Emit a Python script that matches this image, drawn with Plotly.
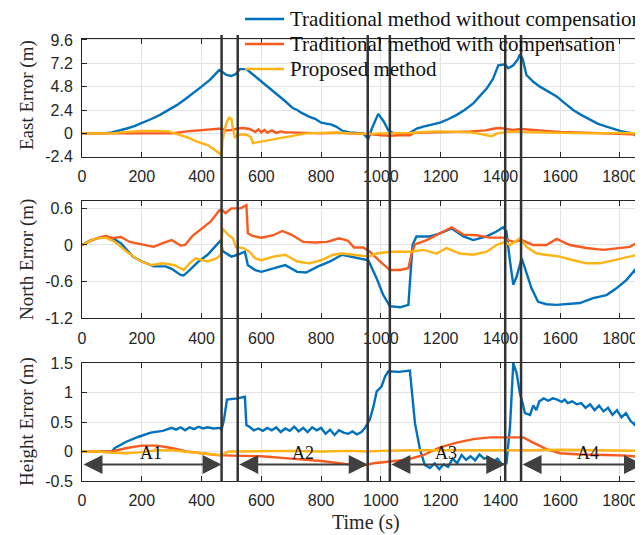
import plotly.graph_objects as go
from plotly.subplots import make_subplots

# ---------------- data ----------------
series_names = ["Traditional method without compensation",
                "Traditional method with compensation",
                "Proposed method"]
series_colors = ["#0072BD", "#F95A1E", "#FDB414"]

# East error
t_e_wo = [0, 50, 80, 100, 130, 150, 175, 200, 230, 261, 290, 317, 345, 372, 400, 428, 445, 459,
          470, 483, 500, 515, 528, 550, 570, 594, 620, 650, 680, 705, 720, 735, 761, 780, 800, 817,
          835, 850, 872, 895, 920, 940, 950, 958, 970, 991, 1010, 1025, 1040, 1070, 1097, 1120, 1142,
          1170, 1198, 1225, 1254, 1280, 1310, 1330, 1354, 1375, 1393, 1415, 1426, 1443, 1458, 1465,
          1474, 1487, 1510, 1532, 1560, 1588, 1615, 1643, 1670, 1699, 1725, 1755, 1780, 1800, 1825,
          1844, 1861, 1872, 1877]
e_wo = [0, 0, 0.02, 0.1, 0.3, 0.5, 0.75, 1.05, 1.45, 1.9, 2.4, 2.9, 3.5, 4.1, 4.8, 5.5, 6.0, 6.5,
        6.3, 6.0, 5.9, 6.1, 6.6, 6.6, 6.1, 5.5, 4.8, 4.1, 3.3, 2.6, 2.4, 2.1, 1.7, 1.5, 1.1, 1.0,
        0.9, 0.7, 0.25, 0.1, 0.05, 0, -0.3, -0.55, 0.5, 2.0, 1.2, 0.3, 0.05, 0, 0.05, 0.5, 0.7,
        0.9, 1.1, 1.45, 1.9, 2.4, 3.1, 3.8, 4.6, 5.6, 7.0, 7.1, 6.7, 7.0, 7.6, 8.1,
        7.7, 6.0, 5.3, 4.8, 4.3, 3.8, 3.1, 2.4, 1.9, 1.4, 1.0, 0.7, 0.45, 0.25, 0.1,
        0, -0.5, -0.8, -0.85]

t_e_wc = [0, 100, 200, 300, 350, 400, 440, 467, 480, 500, 521, 540, 560, 580, 590, 600, 610, 620,
          635, 650, 665, 680, 700, 750, 800, 850, 900, 956, 970, 1000, 1030, 1060, 1097, 1110, 1150,
          1200, 1250, 1300, 1350, 1380, 1400, 1420, 1440, 1470, 1500, 1550, 1600, 1650, 1700, 1750,
          1800, 1840, 1877]
e_wc = [0, 0, -0.05, 0, 0.2, 0.35, 0.45, 0.5, 0.3, 0.35, 0.5, 0.55, 0.45, 0.15, 0.4, 0.1, 0.35, 0.05,
        0.3, 0.05, 0.2, 0.1, 0.1, 0.05, 0, 0.05, 0, -0.05, -0.1, -0.2, -0.25, -0.2, -0.2, 0.05, 0.1,
        0.15, 0.15, 0.2, 0.3, 0.5, 0.55, 0.45, 0.35, 0.45, 0.4, 0.25, 0.15, 0.1, 0.05, 0,
        -0.1, -0.1, -0.05]

t_e_pr = [0, 100, 150, 200, 250, 290, 300, 320, 340, 360, 380, 400, 420, 440, 455, 462, 467, 470,
          478, 485, 492, 500, 505, 512, 520, 540, 555, 565, 572, 590, 610, 650, 700, 750, 800, 850,
          900, 956, 1000, 1030, 1100, 1150, 1200, 1250, 1300, 1330, 1350, 1370, 1390, 1420, 1450,
          1500, 1550, 1600, 1700, 1800, 1877]
e_pr = [0, 0, 0.15, 0.25, 0.25, 0.2, 0.1, -0.1, -0.3, -0.5, -0.8, -1.0, -1.2, -1.6, -1.9, -2.1, -2.3, -0.8,
        0.5, 1.2, 1.6, 1.5, 0.4, -0.4, -0.2, -0.1, -0.2, -0.4, -1.0, -0.9, -0.8, -0.6, -0.25, 0, 0.05, 0.1,
        0, -0.05, 0, 0, 0.05, 0.15, 0.2, 0.15, 0.1, -0.05, -0.2, -0.3, 0.0, 0.15, 0.15,
        0.1, 0.05, 0.05, 0, 0.05, 0]

# North error
t_n_wo = [0, 30, 60, 100, 130, 170, 200, 240, 280, 300, 330, 340, 360, 390, 420, 450, 465, 470, 490,
          500, 520, 545, 555, 580, 600, 640, 680, 720, 750, 790, 830, 870, 900, 930, 958, 986, 1008,
          1030, 1064, 1092, 1099, 1106, 1119, 1164, 1198, 1237, 1276, 1309, 1354, 1387, 1409, 1420,
          1432, 1443, 1454, 1471, 1482, 1504, 1526, 1554, 1588, 1621, 1666, 1710, 1755, 1788, 1822,
          1850, 1861, 1877]
n_wo = [0, 0.08, 0.12, 0.12, 0.03, -0.19, -0.27, -0.35, -0.35, -0.39, -0.49, -0.5, -0.41, -0.27, -0.16,
        0, 0.08, -0.1, -0.16, -0.19, -0.16, -0.11, -0.33, -0.41, -0.44, -0.38, -0.33, -0.44, -0.45, -0.35,
        -0.27, -0.16, -0.19, -0.22, -0.25, -0.55, -0.82, -1.0, -1.02, -0.98, -0.55, 0, 0.14, 0.14, 0.19,
        0.27, 0.14, 0.08, 0.14, 0.22, 0.29, 0.22, -0.27, -0.65, -0.52, -0.22, -0.38, -0.71, -0.93, -0.97,
        -0.98, -0.97, -0.95, -0.87, -0.82, -0.71, -0.57, -0.41, -0.55, -0.62]

t_n_wc = [0, 50, 80, 100, 130, 160, 200, 240, 270, 300, 330, 345, 370, 400, 430, 460, 470, 480, 500,
          530, 550, 555, 570, 600, 640, 670, 700, 740, 780, 820, 860, 890, 910, 941, 963, 997, 1030,
          1064, 1092, 1103, 1114, 1153, 1198, 1237, 1276, 1320, 1365, 1409, 1426, 1443, 1471, 1510,
          1554, 1588, 1632, 1688, 1744, 1788, 1833, 1855, 1877]
n_wc = [0, 0.11, 0.15, 0.11, 0.13, 0.05, 0.01, -0.03, 0.03, 0.08, -0.01, 0, 0.15, 0.27, 0.38, 0.57,
        0.57, 0.52, 0.6, 0.6, 0.65, 0.19, 0.15, 0.12, 0.16, 0.23, 0.17, 0.05, 0.04, 0.05, 0.11, 0.07,
        -0.04, -0.04, -0.11, -0.27, -0.41, -0.41, -0.38, -0.14, 0.01, 0.08, 0.19, 0.29, 0.17, 0.16,
        0.12, 0.12, 0.08, 0.05, 0.08, 0, 0, 0.1, 0, -0.05, -0.08, -0.05, -0.03, 0.03, 0]

t_n_pr = [0, 40, 80, 110, 150, 190, 230, 270, 310, 340, 360, 380, 420, 450, 465, 470, 490, 505, 515,
          540, 560, 580, 600, 640, 680, 720, 760, 800, 840, 870, 908, 958, 986, 1030, 1097, 1142, 1186,
          1220, 1264, 1309, 1354, 1387, 1415, 1432, 1465, 1487, 1521, 1554, 1599, 1643, 1688, 1733,
          1777, 1822, 1877]
n_pr = [0, 0.1, 0.12, 0.05, -0.11, -0.25, -0.33, -0.3, -0.33, -0.41, -0.3, -0.22, -0.27, -0.22, -0.16,
        0.27, 0.16, 0.11, -0.03, -0.05, -0.11, -0.22, -0.25, -0.19, -0.16, -0.27, -0.3, -0.25, -0.16,
        -0.14, -0.16, -0.19, -0.14, -0.11, -0.11, -0.08, -0.14, -0.05, -0.14, -0.16, -0.11, 0, 0.05,
        0, 0.11, -0.03, -0.14, -0.16, -0.19, -0.25, -0.3, -0.3, -0.25, -0.19, -0.14]

# Height error
t_h_wo = ([0, 100, 110, 150, 190, 230, 270, 300, 315, 330, 345, 360, 375, 390, 405, 420, 440, 460,
           467, 475, 485, 500, 520, 545, 550]
          + [560, 575, 590, 605, 620, 635, 650, 665, 680, 695, 710, 725, 740, 755, 770, 785, 800, 815,
             830, 845, 860, 875, 890, 905, 920, 935, 947]
          + [963, 975, 986, 1002, 1014, 1025, 1060, 1097, 1103, 1114, 1131, 1147, 1164, 1180, 1195,
             1210, 1225, 1240, 1255, 1270, 1285, 1300, 1315, 1330, 1345, 1360, 1375, 1390, 1405, 1420,
             1432, 1443, 1454, 1465, 1474, 1482]
          + [1499, 1510, 1520, 1530, 1545, 1560, 1575, 1590, 1605, 1615, 1625, 1640, 1655, 1670, 1685,
             1700, 1715, 1730, 1745, 1760, 1775, 1790, 1805, 1820, 1835, 1850, 1855, 1861, 1870, 1877])
h_wo = ([0, 0, 0.06, 0.17, 0.25, 0.32, 0.35, 0.4, 0.37, 0.41, 0.36, 0.41, 0.38, 0.42, 0.39, 0.41, 0.39,
         0.4, 0.37, 0.54, 0.88, 0.89, 0.9, 0.93, 0.45]
        + [0.42, 0.36, 0.39, 0.35, 0.4, 0.36, 0.41, 0.33, 0.39, 0.35, 0.42, 0.34, 0.4, 0.33, 0.41, 0.36,
           0.4, 0.3, 0.37, 0.28, 0.36, 0.32, 0.3, 0.34, 0.29, 0.33, 0.4]
        + [0.54, 0.76, 1.02, 1.1, 1.27, 1.36, 1.35, 1.37, 1.05, 0.48, 0.03, -0.23, -0.28, -0.2, -0.3,
           -0.22, -0.26, -0.12, -0.2, -0.06, -0.14, -0.08, -0.15, -0.05, -0.12, -0.1, -0.18, -0.12,
           -0.22, -0.2, 0.42, 1.5, 1.33, 0.99, 0.82, 0.65]
        + [0.62, 0.78, 0.7, 0.85, 0.9, 0.86, 0.9, 0.88, 0.84, 0.88, 0.82, 0.85, 0.8, 0.82, 0.74, 0.8,
           0.7, 0.78, 0.68, 0.74, 0.62, 0.7, 0.58, 0.65, 0.52, 0.45, 0.55, 0.78, 0.7, 0.75])

t_h_wc = [0, 100, 150, 200, 250, 300, 350, 400, 450, 500, 550, 600, 700, 800, 880, 920, 941, 975, 1030,
          1086, 1142, 1198, 1254, 1309, 1365, 1420, 1476, 1510, 1554, 1599, 1666, 1755, 1822, 1877]
h_wc = [0, 0, 0.06, 0.1, 0.1, 0.06, 0, -0.03, -0.06, -0.07, -0.07, -0.08, -0.12, -0.16, -0.21, -0.24,
        -0.24, -0.2, -0.17, -0.14, -0.06, 0.07, 0.15, 0.21, 0.24, 0.24, 0.24, 0.15, 0.04, -0.03, -0.05,
        -0.06, -0.07, -0.1]

t_h_pr = [0, 50, 100, 150, 200, 250, 300, 350, 400, 440, 460, 475, 490, 520, 600, 700, 800, 900, 956,
          1000, 1100, 1200, 1300, 1400, 1500, 1600, 1700, 1800, 1877]
h_pr = [0, 0, -0.02, -0.03, -0.01, 0.02, 0.02, 0, -0.03, -0.05, -0.06, -0.04, 0, 0, 0.01, 0.01, 0, 0.01,
        0, 0.01, 0.02, 0.02, 0.01, 0.02, 0.02, 0.03, 0.02, 0.01, 0.01]

# segment boundaries (s) and segment labels
boundaries = [467, 521, 956, 1030, 1416, 1469]
seg_labels = ["A1", "A2", "A3", "A4"]
seg_starts = [0, 521, 1030, 1469]
seg_ends = [467, 956, 1416, 1877]
seg_label_x = [230, 739, 1218, 1694]
arrow_level = -0.22
label_level = -0.02

x_ticks = list(range(0, 1801, 200))
east_ticks = [-2.4, 0, 2.4, 4.8, 7.2, 9.6]
north_ticks = [-1.2, -0.6, 0, 0.6]
height_ticks = [-0.5, 0, 0.5, 1, 1.5]
y_titles = ["East Error (m)", "North Error (m)", "Height Error (m)"]

# ---------------- figure geometry ----------------
OFF = 8                      # page body margin of the browser
W, H = 643 - OFF, 535 - OFF
ML, MR, MT, MB = 82 - OFF, 0, 30, 54
pw, ph = W - ML - MR, H - MT - MB

def fx(px):  # screen pixel (from left) -> paper x
    return (px - OFF - ML) / pw

def fy(py):  # screen pixel (from top) -> paper y
    return (H - MB - (py - OFF)) / ph

fig = make_subplots(rows=3, cols=1)

panels = [
    [(t_e_wo, e_wo), (t_e_wc, e_wc), (t_e_pr, e_pr)],
    [(t_n_wo, n_wo), (t_n_wc, n_wc), (t_n_pr, n_pr)],
    [(t_h_wo, h_wo), (t_h_wc, h_wc), (t_h_pr, h_pr)],
]
for r, panel in enumerate(panels, start=1):
    for k, (tx, vy) in enumerate(panel):
        fig.add_trace(go.Scatter(x=tx, y=vy, mode="lines", name=series_names[k],
                                 line=dict(color=series_colors[k], width=2.4),
                                 showlegend=False), row=r, col=1)

domains = [[fy(156.7), min(1.0, fy(38.5))], [fy(318.3), fy(201)], [fy(481), fy(363)]]
y_ranges = [[-2.4, 9.75], [-1.2, 0.72], [-0.5, 1.5]]
y_tickvals = [east_ticks, north_ticks, height_ticks]

sans = "Liberation Sans, Arial, sans-serif"
serif = "Liberation Serif, Times New Roman, serif"
axis_col = "#262626"
grid_col = "#E3E3E3"

for i in range(3):
    fig.update_xaxes(row=i + 1, col=1, range=[0, 1877], tickvals=x_ticks,
                     ticktext=[str(v) for v in x_ticks], showgrid=True, gridcolor=grid_col,
                     gridwidth=1, zeroline=False, showline=True, linecolor=axis_col, linewidth=1,
                     mirror="allticks", ticks="inside", ticklen=5, tickcolor=axis_col,
                     tickfont=dict(family=sans, size=16, color="#262626"), ticklabelstandoff=5)
    fig.update_yaxes(row=i + 1, col=1, range=y_ranges[i], domain=domains[i],
                     tickvals=y_tickvals[i], ticktext=[f"{v:g}" for v in y_tickvals[i]],
                     showgrid=True, gridcolor=grid_col, gridwidth=1, zeroline=False,
                     showline=True, linecolor=axis_col, linewidth=1, ticks="inside", ticklen=5,
                     tickcolor=axis_col, tickfont=dict(family=sans, size=16, color="#262626"),
                     ticklabelstandoff=5)

# vertical segment boundary lines spanning all panels
for b in boundaries:
    fig.add_shape(type="line", xref="x3", yref="paper", x0=b, x1=b,
                  y0=fy(482), y1=fy(35), line=dict(color="#333333", width=2.5), layer="above")

# double arrows + labels in the height panel
for s, e, lab, lx in zip(seg_starts, seg_ends, seg_labels, seg_label_x):
    fig.add_annotation(x=e, y=arrow_level, ax=s, ay=arrow_level, xref="x3", yref="y3",
                       axref="x3", ayref="y3", showarrow=True, arrowhead=2, arrowside="end+start",
                       arrowsize=1.9, arrowwidth=2, arrowcolor="#404040", text="")
    fig.add_annotation(x=lx, y=label_level, xref="x3", yref="y3", text=lab, showarrow=False,
                       font=dict(family=serif, size=18, color="#111111"))

# legend (drawn as lines + texts so that its spacing matches)
legend_rows_py = [19, 44, 69]
for k, py in enumerate(legend_rows_py):
    fig.add_shape(type="line", xref="paper", yref="paper", x0=fx(245), x1=fx(284),
                  y0=fy(py), y1=fy(py), line=dict(color=series_colors[k], width=2.5))
    fig.add_annotation(x=fx(288), y=fy(py), xref="paper", yref="paper", text=series_names[k],
                       showarrow=False, xanchor="left", yanchor="middle",
                       font=dict(family=serif, size=21, color="#111111"))

# axis titles
title_py = [95, 260, 422]
for ttl, py in zip(y_titles, title_py):
    fig.add_annotation(x=fx(27), y=fy(py), xref="paper", yref="paper",
                       text=ttl, textangle=-90, showarrow=False, xanchor="center", yanchor="middle",
                       font=dict(family=serif, size=19, color="#262626"))
fig.add_annotation(x=fx(366), y=fy(522), xref="paper", yref="paper",
                   text="Time (s)", showarrow=False, xanchor="center", yanchor="middle",
                   font=dict(family=serif, size=20, color="#262626"))

fig.update_layout(
    width=W, height=H, margin=dict(l=ML, r=MR, t=MT, b=MB, autoexpand=False),
    paper_bgcolor="white", plot_bgcolor="white", showlegend=False,
)

fig.write_html("out.html")
